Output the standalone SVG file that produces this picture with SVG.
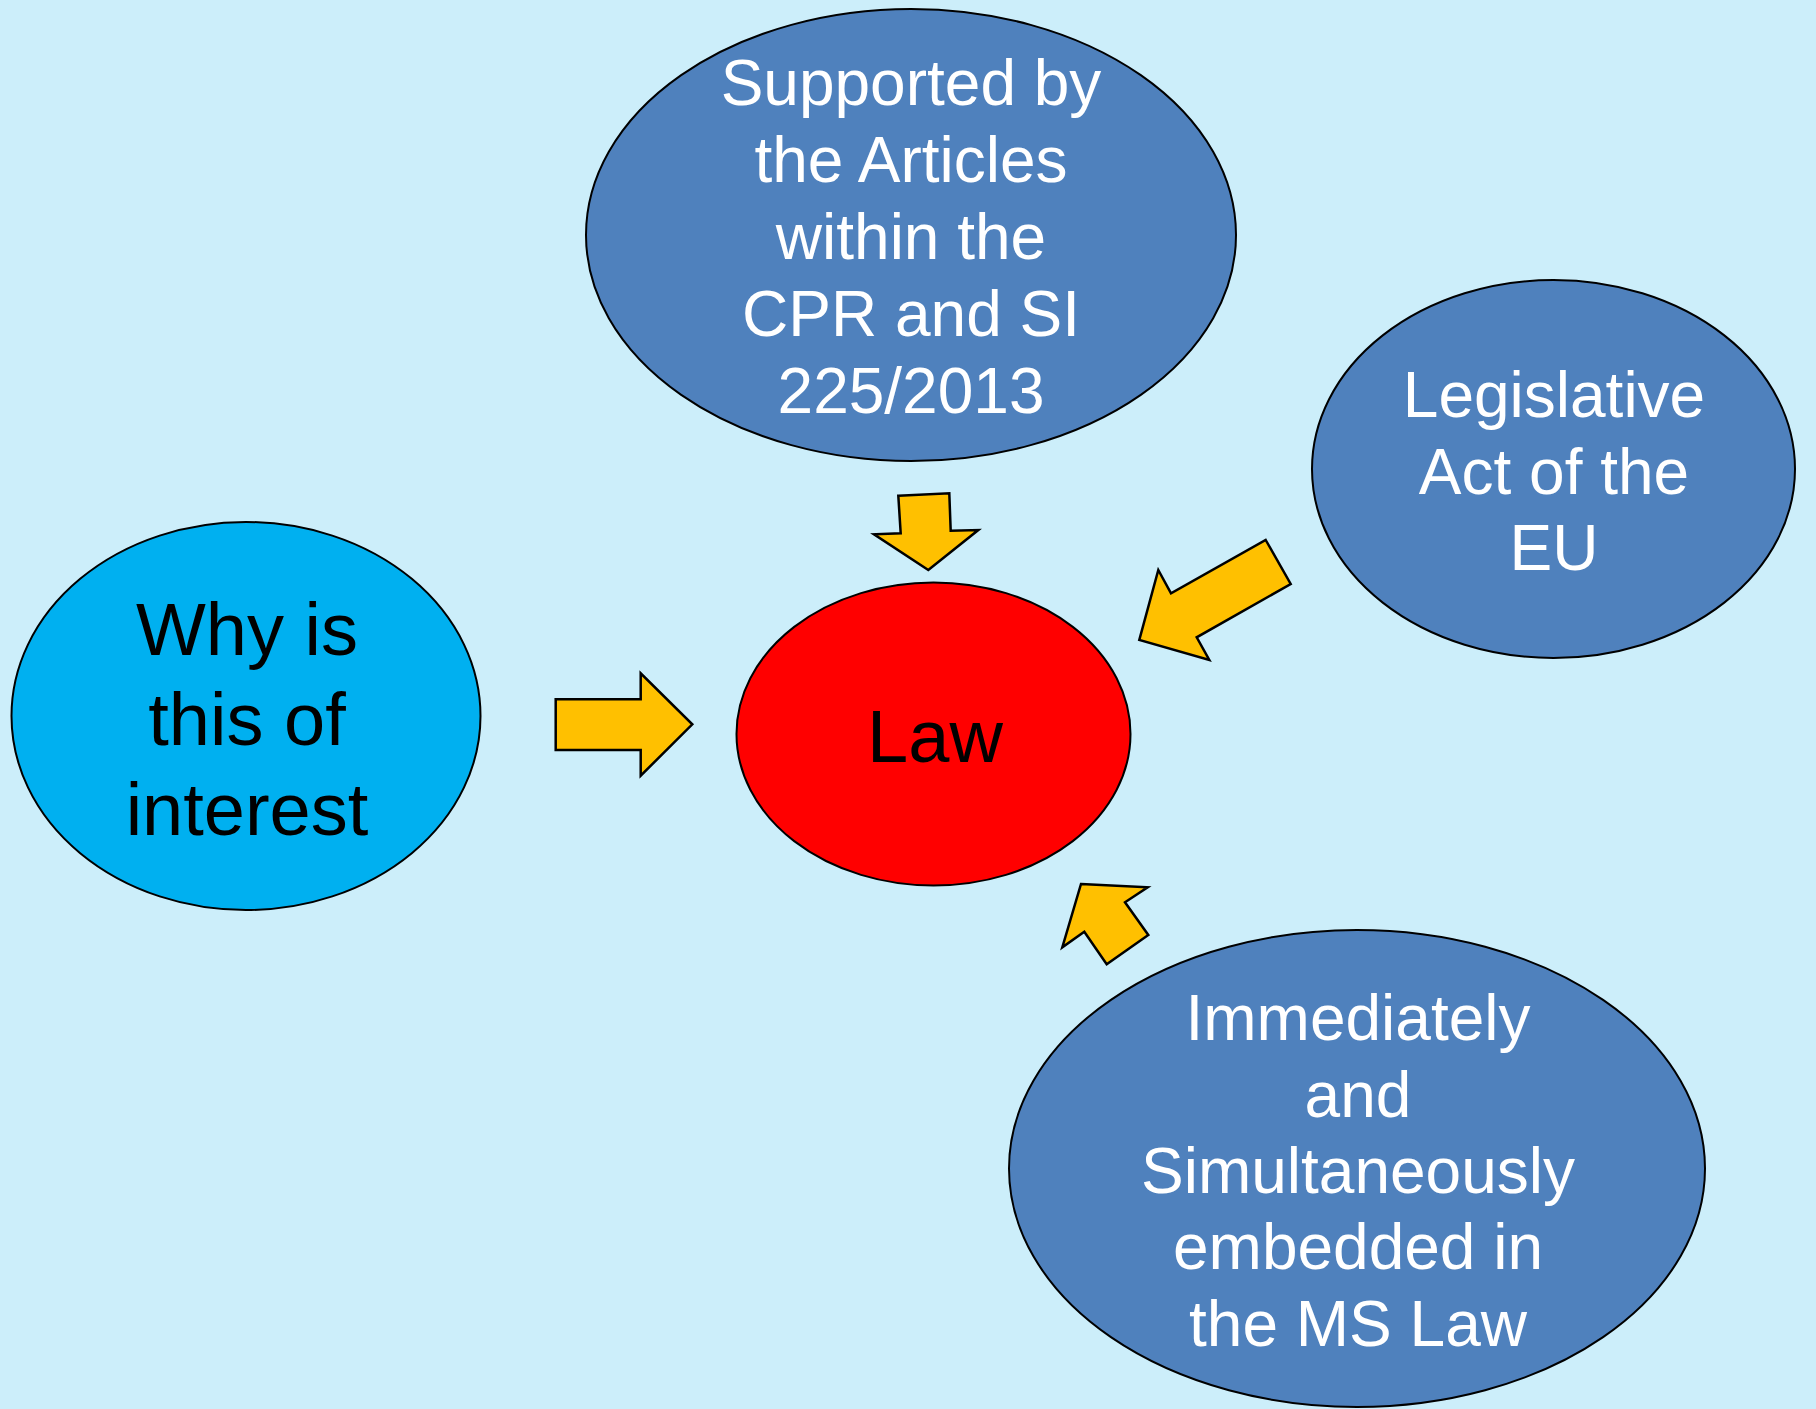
<svg xmlns="http://www.w3.org/2000/svg" width="1816" height="1409" viewBox="0 0 1816 1409">
<style>
.node{stroke:#000;stroke-width:2}
.arrow{fill:#FFC000;stroke:#000;stroke-width:2.5;stroke-linejoin:miter}
text{font-family:"Liberation Sans",Arial,sans-serif;text-anchor:middle}
.w{fill:#fff;font-size:64px}
.b{fill:#000;font-size:74px}
</style>
<rect width="1816" height="1409" fill="#CCEEFA"/>
<g id="node-supported">
<ellipse class="node" cx="911" cy="235" rx="325" ry="226" fill="#4F81BD"/>
<text class="w" x="911" y="105">Supported by</text>
<text class="w" x="911" y="182">the Articles</text>
<text class="w" x="911" y="259">within the</text>
<text class="w" x="911" y="336">CPR and SI</text>
<text class="w" x="911" y="413">225/2013</text>
</g>
<g id="node-legislative">
<ellipse class="node" cx="1553.5" cy="469" rx="241.5" ry="189" fill="#4F81BD"/>
<text class="w" x="1554" y="417">Legislative</text>
<text class="w" x="1554" y="494">Act of the</text>
<text class="w" x="1554" y="570">EU</text>
</g>
<g id="node-why">
<ellipse class="node" cx="246" cy="716" rx="234.5" ry="194" fill="#00B0F0"/>
<text class="b" x="247" y="655">Why is</text>
<text class="b" x="247" y="745">this of</text>
<text class="b" x="247" y="835">interest</text>
</g>
<g id="node-law">
<ellipse class="node" cx="933.5" cy="734" rx="197" ry="151.5" fill="#FF0000"/>
<text class="b" x="935" y="762">Law</text>
</g>
<g id="node-immediately">
<ellipse class="node" cx="1357" cy="1168.5" rx="348" ry="238.5" fill="#4F81BD"/>
<text class="w" x="1358" y="1040">Immediately</text>
<text class="w" x="1358" y="1117">and</text>
<text class="w" x="1358" y="1193">Simultaneously</text>
<text class="w" x="1358" y="1269">embedded in</text>
<text class="w" x="1358" y="1346">the MS Law</text>
</g>
<g id="connectors">
<polygon class="arrow" points="898.3,495.7 949.3,493.3 950.7,530.7 978.3,530 928.3,570 874,534.3 900.7,533.3"/>
<polygon class="arrow" points="1265.7,540 1290.7,584 1196.7,637.3 1209.3,660 1139.3,640 1158.3,570 1171,593.3"/>
<polygon class="arrow" points="555.7,699.3 640.7,699.3 640.7,673.3 692.3,724.3 640.7,775.7 640.7,750 555.7,750"/>
<polygon class="arrow" points="1081,884 1147.7,887.3 1125,902.3 1148.3,935 1106.7,964.3 1084.3,931.7 1062.3,947.3"/>
</g>
</svg>
